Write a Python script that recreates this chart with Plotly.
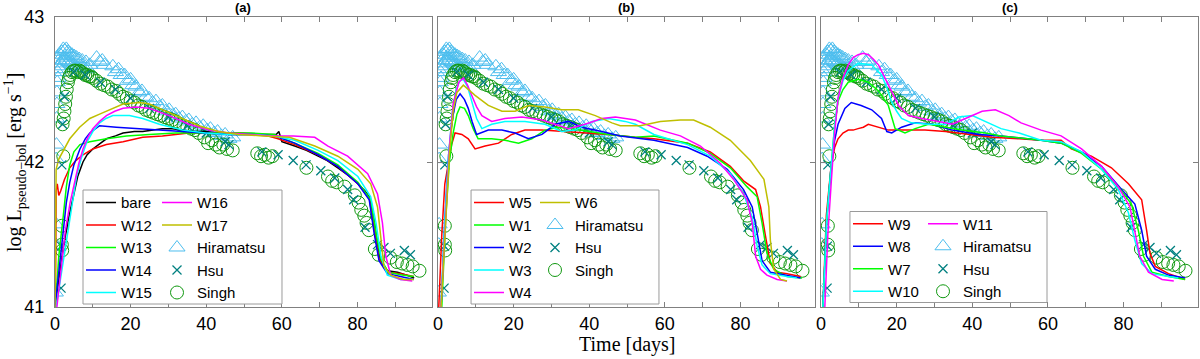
import plotly.graph_objects as go

# ---------------- observations (time [days], log L) ----------------
hiramatsu = [
    (0.1, 41.10), (0.2, 41.43), (0.3, 41.57), (0.3, 42.02), (0.4, 42.12), (0.4, 42.30),
    (0.5, 42.40), (0.5, 42.48), (0.6, 42.55), (0.7, 42.62), (0.8, 42.58), (0.9, 42.66),
    (1.0, 42.70), (1.2, 42.64), (1.4, 42.74), (1.6, 42.68), (1.8, 42.76), (2.0, 42.70),
    (2.2, 42.78), (2.4, 42.72), (2.6, 42.77), (2.8, 42.70), (3.0, 42.78), (3.2, 42.73),
    (3.4, 42.76), (3.6, 42.69), (3.9, 42.75), (4.2, 42.68), (4.5, 42.74), (4.8, 42.67),
    (5.1, 42.73), (5.4, 42.66), (5.7, 42.72), (6.0, 42.65), (6.4, 42.71), (6.8, 42.66),
    (7.2, 42.70), (7.7, 42.65), (8.2, 42.69), (8.7, 42.64), (9.2, 42.67),
    (11.0, 42.72), (11.8, 42.69), (12.5, 42.70), (13.1, 42.67), (15.3, 42.66), (16.0, 42.62),
    (16.8, 42.64), (17.5, 42.60), (18.4, 42.60), (19.2, 42.56), (20.0, 42.57), (20.6, 42.53),
    (21.4, 42.52), (22.2, 42.48), (23.0, 42.49), (24.0, 42.45), (24.9, 42.44), (25.8, 42.41),
    (26.7, 42.42), (27.6, 42.38), (28.4, 42.39), (29.3, 42.35), (30.2, 42.36), (31.0, 42.32),
    (31.9, 42.33), (32.8, 42.30), (33.7, 42.31), (34.6, 42.28), (35.4, 42.29), (36.3, 42.26),
    (37.3, 42.27), (38.3, 42.24), (39.2, 42.25), (40.2, 42.22), (41.1, 42.23), (42.1, 42.20),
    (43.0, 42.21), (44.0, 42.18), (45.0, 42.19), (46.0, 42.16), (47.0, 42.17),
]

hsu = [
    (1.6, 41.13), (1.7, 41.42), (1.8, 41.98), (2.0, 42.26), (2.5, 42.45), (5.0, 42.62),
    (8.0, 42.60), (12.0, 42.55), (16.0, 42.50), (20.0, 42.44), (25.0, 42.37), (30.0, 42.31),
    (35.0, 42.25), (40.0, 42.20), (45.0, 42.14), (46.0, 42.12),
    (54.7, 42.07), (59.0, 42.05), (63.0, 42.01), (66.4, 41.98), (70.3, 41.94), (74.0, 41.89),
    (77.4, 41.81), (79.0, 41.74), (82.0, 41.55), (85.3, 41.43), (87.0, 41.41), (88.7, 41.37),
    (92.4, 41.39), (94.0, 41.36),
]

singh = [
    (1.8, 41.56), (1.8, 41.43), (1.9, 41.39), (2.2, 42.04), (2.0, 42.26), (2.3, 42.30),
    (2.5, 42.35), (2.7, 42.40), (2.9, 42.45), (3.1, 42.50), (3.4, 42.55), (3.7, 42.58),
    (4.0, 42.60), (4.5, 42.62), (5.0, 42.63), (5.5, 42.63), (6.0, 42.62), (6.5, 42.63),
    (7.0, 42.62), (7.5, 42.61), (8.0, 42.60), (8.5, 42.60), (9.0, 42.59), (9.5, 42.59),
    (10.0, 42.58), (11.0, 42.56), (12.0, 42.54), (13.0, 42.53), (14.0, 42.52), (15.0, 42.50),
    (16.2, 42.49), (17.0, 42.47), (18.0, 42.45), (19.0, 42.44), (20.0, 42.42), (21.0, 42.41),
    (22.0, 42.39), (23.0, 42.38), (24.0, 42.36), (25.0, 42.35), (26.0, 42.34), (27.0, 42.33),
    (28.0, 42.32), (29.0, 42.31), (30.0, 42.30), (31.0, 42.29), (32.0, 42.28), (33.0, 42.26),
    (34.0, 42.25), (35.0, 42.24), (36.0, 42.23), (37.0, 42.22), (38.0, 42.20), (39.5, 42.17),
    (40.5, 42.13), (41.5, 42.15), (42.5, 42.12), (43.5, 42.10), (44.5, 42.12), (45.5, 42.09),
    (47.0, 42.08), (53.5, 42.06), (54.5, 42.04), (55.5, 42.05), (56.5, 42.03), (57.5, 42.04),
    (66.5, 41.96), (72.2, 41.90), (73.3, 41.87), (74.5, 41.86), (76.6, 41.83), (79.3, 41.77),
    (80.3, 41.72), (81.0, 41.67), (81.8, 41.63), (82.4, 41.58), (83.0, 41.53), (84.6, 41.40),
    (85.6, 41.36), (88.7, 41.34), (90.4, 41.31), (91.8, 41.30), (93.2, 41.29), (94.6, 41.28),
    (96.4, 41.25),
]

# ---------------- models, panel (a) ----------------
bare = [
    (0.0, 41.0), (1.0, 41.2), (2.2, 41.41), (3.5, 41.6), (4.8, 41.76), (6.0, 41.9), (7.4, 42.0),
    (8.5, 42.05), (10, 42.09), (12, 42.13), (13.6, 42.16), (16, 42.18), (18, 42.2), (21, 42.21),
    (23.2, 42.21), (26, 42.22), (28.4, 42.23), (31, 42.23), (33.7, 42.22), (37, 42.21),
    (39.8, 42.21), (43, 42.2), (46, 42.19), (50, 42.19), (54, 42.19), (58.5, 42.19),
    (59.2, 42.21), (60, 42.14), (63.4, 42.11), (66.5, 42.08), (69.6, 42.04), (72, 42.01),
    (74.8, 41.96), (77.5, 41.91), (80.1, 41.85), (82, 41.8), (83.1, 41.76), (84.4, 41.6),
    (85.2, 41.45), (86, 41.33), (87.9, 41.25), (90.6, 41.24), (93, 41.22), (95, 41.2),
]
W12 = [
    (0.1, 41.0), (0.3, 41.8), (0.6, 41.85), (1.0, 41.77), (1.5, 41.8), (2.5, 41.88), (3.9, 41.96),
    (5.5, 42.01), (7.4, 42.05), (10, 42.09), (13.6, 42.12), (18, 42.14), (23.2, 42.17),
    (28.4, 42.18), (35.4, 42.2), (42.4, 42.2), (49.5, 42.2), (55, 42.19), (59, 42.16),
    (63.4, 42.12), (69.6, 42.05), (74.8, 41.97), (80.1, 41.85), (83.1, 41.75), (84.4, 41.55),
    (85.7, 41.33), (87.9, 41.24), (91.4, 41.23), (94.9, 41.21),
]
W13 = [
    (0.1, 41.0), (1.0, 41.35), (2.2, 41.63), (3.0, 41.83), (3.9, 41.98), (5.0, 42.07),
    (6.6, 42.12), (9.2, 42.14), (13.6, 42.16), (18.9, 42.18), (24.9, 42.19), (31.9, 42.2),
    (39, 42.2), (45.9, 42.2), (52, 42.2), (58, 42.19), (63.4, 42.13), (69.6, 42.06),
    (74.8, 41.98), (80.1, 41.86), (83.5, 41.74), (84.9, 41.51), (86.2, 41.33), (88.1, 41.24),
    (91.8, 41.22), (94.9, 41.21),
]
W14 = [
    (0.0, 41.0), (1.0, 41.25), (2.2, 41.52), (3.0, 41.72), (3.9, 41.86), (5.0, 41.98),
    (6.6, 42.09), (8.0, 42.16), (9.2, 42.2), (11.8, 42.25), (16.2, 42.24), (21.4, 42.23),
    (27.6, 42.22), (33.7, 42.21), (39.8, 42.2), (45.9, 42.19), (52, 42.19), (58, 42.18),
    (63.4, 42.13), (69.6, 42.05), (74.8, 41.97), (80.1, 41.85), (83.1, 41.74), (84.4, 41.51),
    (85.7, 41.32), (87.9, 41.23), (91.4, 41.21), (94.9, 41.19),
]
W15 = [
    (0.3, 41.0), (1.5, 41.2), (2.5, 41.37), (3.5, 41.52), (4.6, 41.72), (5.7, 41.9),
    (7.0, 42.03), (8.3, 42.13), (10, 42.21), (11.8, 42.27), (13.5, 42.3), (15.3, 42.32),
    (17.5, 42.32), (19.7, 42.32), (23.2, 42.3), (27.6, 42.26), (33.7, 42.22), (39.8, 42.2),
    (45.9, 42.19), (52, 42.19), (58, 42.18), (63.4, 42.15), (69.6, 42.08), (74.8, 42.01),
    (80.1, 41.9), (83.5, 41.76), (84.9, 41.58), (86.2, 41.35), (87.9, 41.22), (91.4, 41.19),
    (94.5, 41.19),
]
W16 = [
    (0.5, 41.0), (1.5, 41.25), (2.7, 41.52), (4.0, 41.72), (5.2, 41.86), (6.3, 41.99),
    (7.4, 42.09), (8.7, 42.17), (10, 42.23), (11.8, 42.28), (13.6, 42.32), (15.8, 42.35),
    (18, 42.37), (21.4, 42.38), (24.9, 42.37), (30.2, 42.32), (35.4, 42.26), (40.7, 42.22),
    (45.9, 42.2), (51, 42.19), (57, 42.18), (63, 42.18), (68.7, 42.17), (72.2, 42.11),
    (77.4, 42.04), (82.7, 41.92), (85.3, 41.78), (86.6, 41.58), (87.5, 41.35), (88.8, 41.22),
    (91.4, 41.19), (94.5, 41.18),
]
W17 = [
    (0.0, 41.0), (0.3, 41.95), (1.0, 42.02), (2.0, 42.07), (3.9, 42.16), (6.5, 42.24),
    (9.2, 42.3), (11.8, 42.33), (14.4, 42.36), (18, 42.4), (22.3, 42.41), (25, 42.4),
    (27.6, 42.37), (32.8, 42.31), (38, 42.25), (43.3, 42.21), (48.6, 42.19), (55, 42.18),
    (62, 42.17), (68.7, 42.11), (74.8, 42.04), (80.1, 41.95), (83.5, 41.85), (85.3, 41.69),
    (86.2, 41.46), (87, 41.28), (88.8, 41.22), (92.3, 41.19), (94.9, 41.19),
]

# ---------------- models, panel (b) ----------------
W5 = [
    (0.2, 41.0), (1.0, 41.5), (1.8, 41.85), (2.7, 42.0), (3.6, 42.12), (4.5, 42.2),
    (6.3, 42.19), (8.0, 42.16), (9.8, 42.09), (12.45, 42.11), (16, 42.13), (19.5, 42.19),
    (23, 42.22), (27.5, 42.22), (32.7, 42.21), (38, 42.2), (45.1, 42.19), (52.2, 42.17),
    (57.1, 42.16), (66, 42.13), (72, 42.07), (77.3, 41.97), (80.8, 41.87), (84, 41.81),
    (85.3, 41.69), (86.6, 41.49), (87.9, 41.3), (89.7, 41.24), (92.3, 41.23), (95.9, 41.21),
]
W6 = [
    (0.8, 41.0), (2.0, 41.6), (3.0, 42.05), (4.0, 42.35), (5.0, 42.48), (6.7, 42.53),
    (8.0, 42.5), (9.8, 42.46), (13.3, 42.39), (16.9, 42.35), (20.4, 42.35), (23.9, 42.39),
    (28.3, 42.38), (32.7, 42.36), (37.1, 42.36), (41.6, 42.32), (46, 42.27), (48.2, 42.25),
    (53.5, 42.25), (58.8, 42.28), (64.1, 42.29), (67.6, 42.29), (72, 42.24), (77.3, 42.15),
    (82.6, 42.01), (86.2, 41.88), (87.5, 41.69), (87.9, 41.46), (88.8, 41.26), (90.6, 41.19),
    (92.3, 41.18),
]
W1 = [
    (1.0, 41.0), (2.0, 41.6), (3.0, 42.0), (4.0, 42.2), (5.0, 42.33), (5.83, 42.38),
    (7.0, 42.37), (8.0, 42.32), (9.3, 42.23), (10.6, 42.16), (14.2, 42.16), (17.7, 42.15),
    (21.3, 42.13), (24.8, 42.16), (28.3, 42.22), (31.8, 42.24), (35.4, 42.23), (39.8, 42.21),
    (45.1, 42.19), (52.2, 42.17), (57.1, 42.18), (66, 42.13), (72, 42.06), (77.3, 41.96),
    (81.7, 41.83), (84.4, 41.76), (85.7, 41.58), (87, 41.37), (88.8, 41.26), (92.3, 41.21),
    (96.3, 41.2),
]
W2 = [
    (0.8, 41.0), (1.8, 41.6), (2.8, 42.05), (3.8, 42.3), (4.8, 42.43), (5.83, 42.47),
    (7.0, 42.43), (8.0, 42.37), (9.0, 42.28), (10.2, 42.19), (13.3, 42.22), (16.9, 42.22),
    (20.4, 42.2), (23.9, 42.16), (27.5, 42.19), (31, 42.26), (34.5, 42.28), (38, 42.24),
    (43.3, 42.21), (48.2, 42.18), (57.1, 42.15), (66, 42.1), (71.2, 42.04), (76.5, 41.95),
    (80.8, 41.81), (83.1, 41.69), (84.4, 41.51), (85.7, 41.32), (87.9, 41.24), (92.3, 41.22),
    (95.9, 41.2),
]
W3 = [
    (0.8, 41.0), (1.8, 41.6), (2.8, 42.05), (3.8, 42.35), (4.8, 42.5), (5.8, 42.56),
    (6.7, 42.57), (7.8, 42.52), (8.9, 42.42), (10.2, 42.3), (11.6, 42.23), (14.2, 42.26),
    (17.7, 42.28), (23, 42.28), (28.3, 42.26), (32.7, 42.21), (36.3, 42.22), (40.7, 42.28),
    (45.1, 42.3), (49.5, 42.28), (52.2, 42.26), (57.1, 42.19), (66, 42.12), (72, 42.04),
    (77.3, 41.92), (80.8, 41.78), (83.1, 41.62), (84.4, 41.42), (85.7, 41.29), (87.9, 41.23),
    (92.3, 41.21), (94.9, 41.2),
]
W4 = [
    (0.8, 41.0), (2.0, 41.6), (3.0, 42.1), (4.0, 42.4), (5.5, 42.55), (6.7, 42.58),
    (7.8, 42.53), (8.9, 42.46), (10.2, 42.38), (11.6, 42.32), (14.2, 42.28), (17.7, 42.3),
    (22.2, 42.31), (27.5, 42.29), (31, 42.26), (34.5, 42.23), (38.9, 42.26), (43.3, 42.3),
    (46.9, 42.31), (52.2, 42.29), (58.8, 42.22), (64.1, 42.18), (69.4, 42.11), (74.7, 41.99),
    (78.2, 41.88), (81.7, 41.74), (83.1, 41.58), (84, 41.35), (85.3, 41.26), (87, 41.22),
    (89.7, 41.19), (92.3, 41.18),
]

# ---------------- models, panel (c) ----------------
W9 = [
    (0.5, 41.0), (1.4, 41.63), (2.7, 41.98), (3.6, 42.1), (4.5, 42.16), (5.8, 42.2),
    (7.2, 42.22), (8.5, 42.22), (9.8, 42.23), (11.2, 42.24), (12.5, 42.26), (15.2, 42.24),
    (17.8, 42.22), (22.2, 42.22), (27.5, 42.22), (32.9, 42.21), (39.1, 42.19), (45.3, 42.17),
    (52.4, 42.16), (58.2, 42.15), (63.5, 42.15), (66.2, 42.09), (71.5, 42.04), (76.8, 41.96),
    (81.3, 41.85), (84.8, 41.74), (86.1, 41.53), (87, 41.37), (88.4, 41.28), (91.9, 41.23),
    (96.3, 41.19),
]
W8 = [
    (0.5, 41.0), (1.5, 41.6), (2.7, 41.98), (3.6, 42.15), (4.5, 42.26), (6.3, 42.37),
    (8.0, 42.41), (10.6, 42.39), (13.4, 42.36), (16, 42.3), (17.4, 42.21), (18.7, 42.2),
    (21.3, 42.24), (24.9, 42.27), (29.3, 42.26), (34.7, 42.22), (41.7, 42.19), (47.6, 42.18),
    (58.2, 42.15), (63.5, 42.13), (68.9, 42.07), (74.2, 41.97), (79.5, 41.81), (83, 41.71),
    (84.8, 41.53), (86.1, 41.35), (88.4, 41.26), (91.9, 41.22), (96.3, 41.2),
]
W7 = [
    (0.5, 41.0), (1.5, 41.6), (2.7, 41.98), (3.6, 42.25), (4.5, 42.42), (5.8, 42.5),
    (7.2, 42.55), (9.8, 42.57), (12.5, 42.55), (15.2, 42.49), (17.8, 42.39), (18.8, 42.3),
    (19.6, 42.23), (22.2, 42.2), (24.9, 42.23), (28.4, 42.26), (32.9, 42.24), (37.3, 42.22),
    (43.5, 42.2), (47.6, 42.18), (58.2, 42.15), (63.5, 42.13), (68.9, 42.06), (74.2, 41.95),
    (78.6, 41.83), (82.1, 41.71), (83.9, 41.53), (85.3, 41.35), (87.5, 41.24), (91.9, 41.21),
    (96.3, 41.19),
]
W10 = [
    (0.5, 41.0), (1.5, 41.6), (2.7, 41.98), (3.6, 42.25), (4.5, 42.44), (5.8, 42.56),
    (7.2, 42.63), (9.8, 42.68), (13.4, 42.67), (16, 42.6), (17.3, 42.52), (18.6, 42.42),
    (20, 42.35), (21.3, 42.3), (23.9, 42.27), (28.4, 42.26), (32.9, 42.26), (36.4, 42.31),
    (40, 42.32), (43.5, 42.28), (47.6, 42.23), (52.4, 42.2), (58.2, 42.15), (63.5, 42.14),
    (68.9, 42.07), (74.2, 41.95), (78.6, 41.81), (81.3, 41.65), (83, 41.46), (84.8, 41.3),
    (87.5, 41.23), (91.9, 41.21), (94.5, 41.2),
]
W11 = [
    (1.0, 41.0), (1.8, 41.5), (2.7, 41.86), (3.6, 42.2), (4.5, 42.44), (5.8, 42.58),
    (7.2, 42.67), (8.5, 42.72), (9.8, 42.74), (11.2, 42.75), (12.5, 42.74), (13.8, 42.71),
    (15.2, 42.67), (16.5, 42.6), (17.8, 42.53), (20.5, 42.39), (23.1, 42.32), (26.6, 42.3),
    (31.1, 42.28), (34.7, 42.26), (38.2, 42.3), (42.6, 42.35), (46.1, 42.36), (49.7, 42.32),
    (52.9, 42.27), (58.2, 42.22), (63.5, 42.18), (68.9, 42.09), (74.2, 41.97), (78.6, 41.83),
    (81.7, 41.69), (83, 41.53), (84.3, 41.35), (86.6, 41.24), (90.2, 41.19), (93.3, 41.18),
]

# panel contents: (legend column 1, legend column 2) model names
panel_models = [
    (["bare", "W12", "W13", "W14", "W15"], ["W16", "W17"]),
    (["W5", "W1", "W2", "W3", "W4"], ["W6"]),
    (["W9", "W8", "W7", "W10"], ["W11"]),
]
models = {"bare": bare, "W1": W1, "W2": W2, "W3": W3, "W4": W4, "W5": W5, "W6": W6,
          "W7": W7, "W8": W8, "W9": W9, "W10": W10, "W11": W11, "W12": W12,
          "W13": W13, "W14": W14, "W15": W15, "W16": W16, "W17": W17}

# styles
RED, GREEN, BLUE, CYAN, MAG, OLIVE = "#ff0000", "#00ff00", "#0000ff", "#00ffff", "#ff00ff", "#bfbf00"
model_color = {"bare": "#000000", "W12": RED, "W13": GREEN, "W14": BLUE, "W15": CYAN,
               "W16": MAG, "W17": OLIVE,
               "W5": RED, "W1": GREEN, "W2": BLUE, "W3": CYAN, "W4": MAG, "W6": OLIVE,
               "W9": RED, "W8": BLUE, "W7": GREEN, "W10": CYAN, "W11": MAG}
SANS = "Liberation Sans, Arial, sans-serif"
SERIF = "Liberation Serif, Times New Roman, serif"

fig = go.Figure()

for p, (col1, col2) in enumerate(panel_models):
    xa = "x" if p == 0 else f"x{p + 1}"
    ya = "y" if p == 0 else f"y{p + 1}"
    leg1 = "legend" if p == 0 else f"legend{2 * p + 1}"
    leg2 = f"legend{2 * p + 2}"
    n2 = len(col2)

    # observations
    obs = [
        ("Hiramatsu", hiramatsu, dict(symbol="triangle-up-open", size=14, color="#4dbeee",
                                      line=dict(width=1, color="#4dbeee")), n2 + 1),
        ("Singh", singh, dict(symbol="circle-open", size=13, color="#119911",
                              line=dict(width=1, color="#119911")), n2 + 3),
        ("Hsu", hsu, dict(symbol="x-thin-open", size=9, color="#008080",
                          line=dict(width=1.3, color="#008080")), n2 + 2),
    ]
    for name, data, marker, rank in obs:
        fig.add_trace(go.Scatter(
            x=[d[0] for d in data], y=[d[1] for d in data], mode="markers", name=name,
            marker=marker, xaxis=xa, yaxis=ya, legend=leg2, legendrank=rank,
        ))

    for col, leg in ((col1, leg1), (col2, leg2)):
        for r, name in enumerate(col):
            data = models[name]
            fig.add_trace(go.Scatter(
                x=[d[0] for d in data], y=[d[1] for d in data], mode="lines", name=name,
                line=dict(color=model_color[name], width=1.5),
                xaxis=xa, yaxis=ya, legend=leg, legendrank=r + 1,
            ))

# axes
domains = [[0.0, 0.3298], [0.3351, 0.6649], [0.6702, 1.0]]
axis_common = dict(showline=True, linecolor="#808080", linewidth=1, mirror="ticks",
                   ticks="inside", ticklen=5, tickcolor="#808080", showgrid=False,
                   zeroline=False, automargin=False,
                   tickfont=dict(family=SANS, size=18, color="#000"))
layout_axes = {}
for p in range(3):
    sx = "" if p == 0 else str(p + 1)
    layout_axes[f"xaxis{sx}"] = dict(
        axis_common, domain=domains[p], range=[0, 99.7], anchor=f"y{sx}",
        tickvals=[0, 20, 40, 60, 80],
        minor=dict(tickvals=[10, 30, 50, 70, 90], ticks="inside", ticklen=5, tickcolor="#808080"),
    )
    layout_axes[f"yaxis{sx}"] = dict(
        axis_common, domain=[0, 1], range=[41, 43], anchor=f"x{sx}",
        tickvals=[41, 42, 43], showticklabels=(p == 0), ticklabelstandoff=6,
    )

# legends (two columns per panel) and their frames
leg_x = [0.02275, 0.08924, 0.36220, 0.41995, 0.69379, 0.75941]
leg_y = [0.4164, 0.4164, 0.4164, 0.4164, 0.3431, 0.3431]
legends = {}
for i in range(6):
    key = "legend" if i == 0 else f"legend{i + 1}"
    legends[key] = dict(x=leg_x[i], y=leg_y[i], xanchor="left", yanchor="top",
                        bgcolor="rgba(0,0,0,0)", borderwidth=0, tracegroupgap=0,
                        font=dict(family=SANS, size=15, color="#000"))

frames = [(0.0245, 0.1986, 0.0103, 0.4034), (0.3640, 0.5284, 0.0103, 0.4034),
          (0.6955, 0.8679, 0.0155, 0.3293)]
shapes = [dict(type="rect", xref="paper", yref="paper", x0=a, x1=b, y0=c, y1=d,
               fillcolor="white", line=dict(color="#9a9a9a", width=1), layer="above")
          for a, b, c, d in frames]

annotations = [dict(text=f"<b>{lab}</b>", xref="paper", yref="paper",
                    x=(dm[0] + dm[1]) / 2, y=1, xanchor="center", yanchor="bottom",
                    showarrow=False, font=dict(family=SANS, size=13, color="#000"))
               for lab, dm in zip(["(a)", "(b)", "(c)"], domains)]
# axis titles
annotations.append(dict(text="Time [days]", xref="paper", yref="paper",
                        x=(domains[1][0] + domains[1][1]) / 2, y=-0.128,
                        xanchor="center", yanchor="middle", showarrow=False,
                        font=dict(family=SERIF, size=20, color="#000")))
annotations.append(dict(text="log L<sub>pseudo\u2212bol</sub> [erg s<sup>\u22121</sup>]",
                        xref="paper", yref="paper", x=-0.035, y=0.5, textangle=-90,
                        xanchor="center", yanchor="middle", showarrow=False,
                        font=dict(family=SERIF, size=20, color="#000")))

fig.update_layout(
    width=1200, height=359,
    margin=dict(l=55, r=2, t=17, b=52),
    paper_bgcolor="white", plot_bgcolor="white",
    shapes=shapes, annotations=annotations,
    **layout_axes, **legends,
)

# drop the page's default body margin so the figure sits at the window's corner
fig.write_html("out.html", config={"displayModeBar": False},
               post_script="document.body.style.margin = '0px';")
